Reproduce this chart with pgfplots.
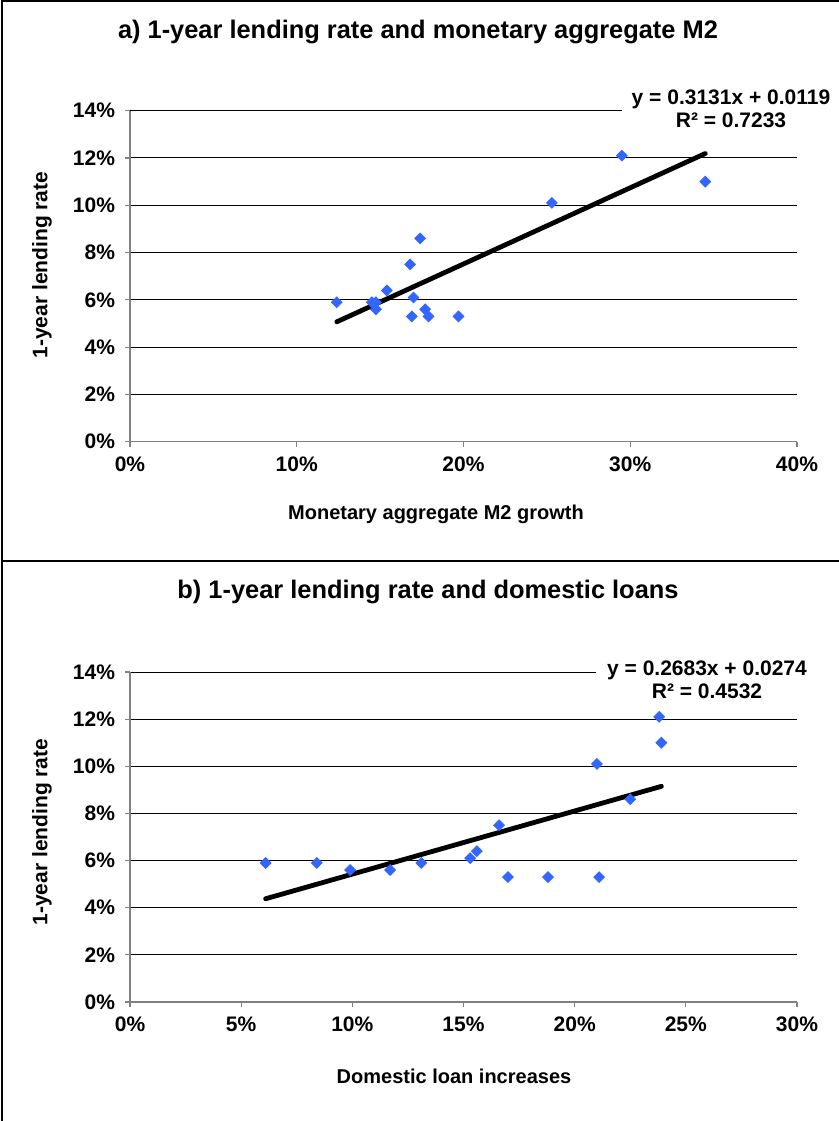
\documentclass[border=0pt]{standalone}
\usepackage{pgfplots}
\pgfplotsset{compat=1.18}
\usepackage{fontspec}
\setmainfont{Liberation Sans}
\definecolor{ptblue}{HTML}{3366FF}
\definecolor{axgray}{HTML}{808080}

\pgfplotsset{
  mystyle/.style={
    scale only axis,
    width=333.5pt,
    anchor=south west,
    axis x line*=bottom, axis y line*=left,
    axis line style={draw=axgray, line width=0.6pt},
    tick style={draw=axgray, line width=0.6pt},
    tick align=outside,
    major tick length=2.5pt,
    ymin=0, ymax=14, ytick={0,2,...,14},
    yticklabels={0\%,2\%,4\%,6\%,8\%,10\%,12\%,14\%},
    ymajorgrids,
    grid style={black, line width=0.5pt},
    ticklabel style={font=\bfseries\fontsize{10.5}{12}\selectfont},
    yticklabel style={xshift=-1.5pt},
    xticklabel style={yshift=-1.5pt},
    clip=false,
  },
  pts/.style={only marks, mark=square*, mark size=1.9pt, color=ptblue, mark options={rotate=45}},
  trend/.style={black, line width=2.4pt, line cap=round},
}

\begin{document}
\begin{tikzpicture}
\useasboundingbox (0,0) rectangle (419.5pt,-560.5pt);
% frames
\draw[line width=0.75pt] (1pt,-0.4pt) -- (419.5pt,-0.4pt);
\draw[line width=0.75pt] (1pt,0pt) -- (1pt,-560.5pt);
\draw[line width=0.75pt] (1pt,-280.5pt) -- (419.5pt,-280.5pt);

% ---------- a) ----------
\begin{axis}[mystyle, at={(65pt,-220.85pt)}, height=165.5pt,
  xmin=0, xmax=40, xtick={0,10,...,40},
  xticklabels={0\%,10\%,20\%,30\%,40\%}]
\addplot[pts] coordinates {
(12.4,5.9) (14.5,5.9) (14.75,5.9) (14.75,5.6) (15.4,6.4) (16.8,7.5) (17.4,8.6)
(17.0,6.1) (16.9,5.3) (17.7,5.6) (17.9,5.3) (19.7,5.3) (25.3,10.1) (29.5,12.1) (34.5,11.0)};
\addplot[trend] coordinates {(12.4,5.07) (34.5,12.19)};
\end{axis}

% ---------- b) ----------
\begin{axis}[mystyle, at={(65pt,-501pt)}, height=165pt,
  xmin=0, xmax=30, xtick={0,5,...,30},
  xticklabels={0\%,5\%,10\%,15\%,20\%,25\%,30\%}]
\addplot[pts] coordinates {
(6.1,5.9) (8.4,5.9) (9.9,5.6) (11.7,5.6) (13.1,5.9) (15.3,6.1) (15.6,6.4) (16.6,7.5)
(17.0,5.3) (18.8,5.3) (21.0,10.1) (21.1,5.3) (22.5,8.6) (23.8,12.1) (23.9,11.0)};
\addplot[trend] coordinates {(6.1,4.38) (23.9,9.15)};
\end{axis}

% titles and labels
\begin{scope}[font=\bfseries]
\node[font=\bfseries\fontsize{12.7}{14}\selectfont] at (209pt,-16pt) {a) 1-year lending rate and monetary aggregate M2};
\node[font=\bfseries\fontsize{12.7}{14}\selectfont] at (214pt,-296pt) {b) 1-year lending rate and domestic loans};
\node[font=\bfseries\fontsize{10.5}{12}\selectfont, rotate=90] at (21pt,-132.5pt) {1-year lending rate};
\node[font=\bfseries\fontsize{10.5}{12}\selectfont, rotate=90] at (21pt,-416pt) {1-year lending rate};
\node[font=\bfseries\fontsize{10}{12}\selectfont] at (218pt,-257pt) {Monetary aggregate M2 growth};
\node[font=\bfseries\fontsize{10}{12}\selectfont] at (227pt,-538pt) {Domestic loan increases};
\node[font=\bfseries\fontsize{10.5}{11.5}\selectfont, fill=white, align=center, inner xsep=5pt, inner ysep=2pt] at (365.5pt,-54.5pt) {y = 0.3131x + 0.0119\\R² = 0.7233};
\node[font=\bfseries\fontsize{10.5}{11.5}\selectfont, fill=white, align=center, inner xsep=5.5pt, inner ysep=2pt] at (353.5pt,-340pt) {y = 0.2683x + 0.0274\\R² = 0.4532};
\end{scope}
\end{tikzpicture}
\end{document}
